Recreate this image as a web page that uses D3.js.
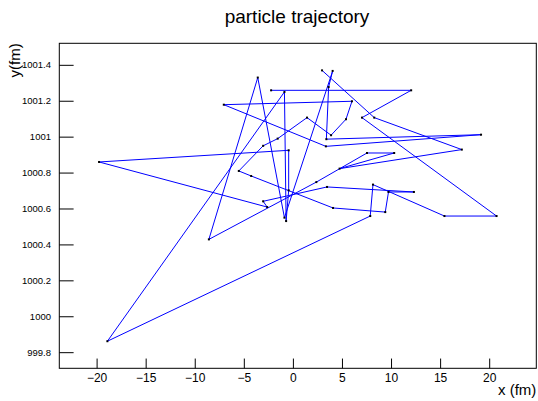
<!DOCTYPE html>
<html>
<head>
<meta charset="utf-8">
<title>particle trajectory</title>
<script src="https://cdn.jsdelivr.net/npm/d3@7"></script>
<style>
	html, body {
		margin: 0;
		padding: 0;
		background: #fff;
	}
	svg {
		display: block;
		font-family: 'Liberation Sans', Arial, sans-serif;
	}
</style>
</head>
<body>

<div id="vis"></div>

<script>

// trajectory points, in the order they were visited
var xs = [2.97, 8.29, 17.21, 4.76, 10.32, 7.55, 2.39, -8.56, -3.58, -0.86, 4.05, 3.64, 3.41, 19.17, 3.36, -7.04, 6.02, 5.41, 3.89, 1.44, -1.55, -3.03, -5.51, -4.25, 4.09, 9.41, 9.74, 12.33, 3.48, -3.03, -2.62, -19.75, -0.43, -0.43, -0.69, -0.86, -18.90, 7.88, 8.16, 15.44, 20.75, 7.04, 12.05, -2.22];
var ys = [1001.369, 1001.106, 1000.928, 1000.822, 1000.909, 1000.909, 1000.747, 1000.428, 1001.329, 1000.549, 1001.366, 1001.276, 1000.986, 1001.011, 1000.946, 1001.178, 1001.197, 1001.097, 1001.008, 1001.106, 1000.989, 1000.949, 1000.809, 1000.781, 1000.603, 1000.580, 1000.692, 1000.692, 1000.720, 1000.640, 1000.608, 1000.859, 1000.924, 1000.701, 1000.530, 1001.249, 999.861, 1000.558, 1000.733, 1000.558, 1000.558, 1001.106, 1001.258, 1001.258];

var xMajor = [-20, -15, -10, -5, 0, 5, 10, 15, 20];
var yMajor = [999.8, 1000, 1000.2, 1000.4, 1000.6, 1000.8, 1001, 1001.2, 1001.4];

var title = "particle trajectory";
var xTitle = "x (fm)";
var yTitle = "y(fm)";

var width = 538, height = 401;
var frame = {left: 59.3, right: 536.3, top: 43.3, bottom: 368.3};

var svg = d3.select("#vis").append("svg")
	.attr("width", width)
	.attr("height", height);

// ROOT style: 10% padding round the data range
function padded(v) {
	var lo = d3.min(v), hi = d3.max(v), m = (hi - lo) * 0.1;
	return [lo - m, hi + m];
}

var x = d3.scaleLinear().domain(padded(xs)).range([frame.left, frame.right]);
var y = d3.scaleLinear().domain(padded(ys)).range([frame.bottom, frame.top]);

var fh = frame.bottom - frame.top;
var fw = frame.right - frame.left;

// minor ticks
var xd = x.domain(), yd = y.domain();
var xMinor = d3.range(Math.ceil(xd[0]), Math.floor(xd[1]) + 1).filter(function(v) { return v % 5 !== 0; });
var yMinor = d3.range(Math.ceil(yd[0] / 0.05), Math.floor(yd[1] / 0.05) + 1)
	.map(function(k) { return +(k * 0.05).toFixed(2); })
	.filter(function(v) { return Math.abs(v / 0.2 - Math.round(v / 0.2)) > 1e-6; });

var gx = svg.append("g").attr("transform", "translate(0," + frame.bottom + ")");
gx.call(d3.axisBottom(x).tickValues(xMinor).tickFormat("").tickSizeInner(-fh * 0.015).tickSizeOuter(0));
gx.call(d3.axisBottom(x).tickValues(xMajor).tickSizeInner(-fh * 0.03).tickSizeOuter(0).tickPadding(5.2));
gx.selectAll(".domain").remove();
gx.selectAll("text").attr("font-size", 12).attr("fill", "#000").attr("font-family", "'Liberation Sans', Arial, sans-serif");

var gy = svg.append("g").attr("transform", "translate(" + frame.left + ",0)");
gy.call(d3.axisLeft(y).tickValues(yMinor).tickFormat("").tickSizeInner(-fw * 0.015).tickSizeOuter(0));
gy.call(d3.axisLeft(y).tickValues(yMajor).tickFormat(d3.format("~g")).tickSizeInner(-fw * 0.03).tickSizeOuter(0).tickPadding(8.3));
gy.selectAll(".domain").remove();
gy.selectAll("text").attr("font-size", 9.5).attr("fill", "#000").attr("font-family", "'Liberation Sans', Arial, sans-serif");

svg.selectAll(".tick line").attr("stroke", "#000");

// frame
svg.append("rect")
	.attr("x", frame.left)
	.attr("y", frame.top)
	.attr("width", fw)
	.attr("height", fh)
	.attr("fill", "none")
	.attr("stroke", "#000")
	.attr("stroke-width", 1);

var pts = xs.map(function(d, i) { return [d, ys[i]]; });

svg.append("path")
	.datum(pts)
	.attr("fill", "none")
	.attr("stroke", "#0000ff")
	.attr("stroke-width", 1)
	.attr("d", d3.line().x(function(d) { return x(d[0]); }).y(function(d) { return y(d[1]); }));

svg.selectAll(".pt")
	.data(pts)
	.enter().append("rect")
	.attr("class", "pt")
	.attr("x", function(d) { return x(d[0]) - 1; })
	.attr("y", function(d) { return y(d[1]) - 1; })
	.attr("width", 2)
	.attr("height", 2)
	.attr("fill", "#000");

// titles
svg.append("text")
	.attr("x", 297)
	.attr("y", 23)
	.attr("text-anchor", "middle")
	.attr("font-size", 19)
	.text(title);

svg.append("text")
	.attr("x", frame.right)
	.attr("y", 395)
	.attr("text-anchor", "end")
	.attr("font-size", 15)
	.text(xTitle);

svg.append("text")
	.attr("transform", "translate(20," + frame.top + ") rotate(-90)")
	.attr("text-anchor", "end")
	.attr("font-size", 15)
	.text(yTitle);

</script>
</body>
</html>
